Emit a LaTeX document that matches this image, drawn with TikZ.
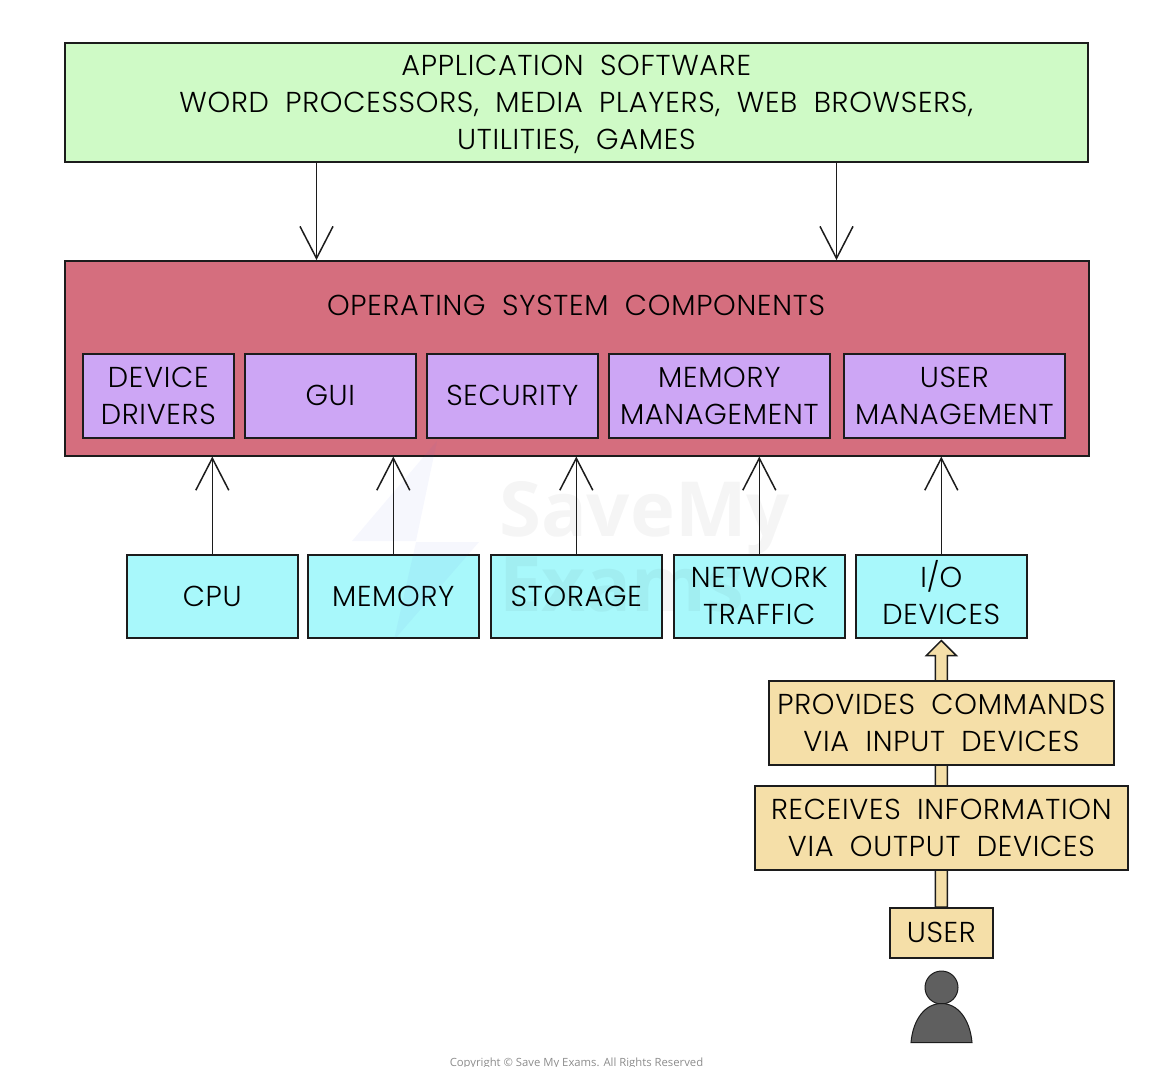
\documentclass[tikz,border=0pt]{standalone}
\usepackage{fontspec}
\setmainfont{Poppins}[UprightFont=* Light,BoldFont=* SemiBold,LetterSpace=2.5,WordSpace=1.9]
\newfontfamily\copyfont{Open Sans}
\usetikzlibrary{arrows.meta}
\usetikzlibrary{calc}
\usetikzlibrary{backgrounds}
\definecolor{c_green}{HTML}{CFFAC6}
\definecolor{c_red}{HTML}{D56E7E}
\definecolor{c_purple}{HTML}{CDA6F5}
\definecolor{c_cyan}{HTML}{A8F8FB}
\definecolor{c_tan}{HTML}{F5DFA8}
\definecolor{c_line}{HTML}{1C1C1C}
\definecolor{c_person}{HTML}{5F5F5F}
\definecolor{c_mark}{HTML}{5560E0}
\tikzset{
	box/.style = {
		align=center,
		inner sep=0pt,
		text centered,
		font=\fontsize{28.8}{37}\selectfont,
		draw=c_line,
		line width=1.6pt,
		anchor=north west
	},
	node_app/.style = {
		box,
		fill=c_green,
		minimum width=1023pt,
		minimum height=119pt
	},
	node_os/.style = {
		box,
		fill=c_red,
		minimum width=1024pt,
		minimum height=195pt
	},
	node_part/.style = {
		box,
		fill=c_purple,
		minimum height=84pt
	},
	node_res/.style = {
		box,
		fill=c_cyan,
		minimum width=171pt,
		minimum height=83pt
	},
	node_user/.style = {
		box,
		fill=c_tan,
		minimum height=84pt
	},
	node_mark/.style = {
		inner sep=0pt,
		text=black,
		text opacity=0.04,
		anchor=base west,
		font=\copyfont\bfseries\fontsize{76}{76}\selectfont
	},
	link/.style = {
		c_line,
		line width=1.5pt,
		-{Straight Barb[length=32pt,width=33pt,line width=1.5pt]}
	},
	block/.style = {
		draw=c_line,
		fill=c_tan,
		line width=1.5pt,
		line join=miter
	},
	person/.style = {
		draw=c_line,
		fill=c_person,
		line width=1pt
	},
}

\begin{document}
\begin{tikzpicture}[x=1pt,y=-1pt]
\useasboundingbox (1,1) rectangle (1155,1067);
% top layer
\node [node_app] (app) at (65,43) {APPLICATION SOFTWARE\\WORD PROCESSORS, MEDIA PLAYERS, WEB BROWSERS,\\UTILITIES\smash{,} GAMES};
\node [node_os] (os) at (65,261) {};
\node [font=\fontsize{28.8}{37}\selectfont] (ostitle) at (577,306.5) {OPERATING SYSTEM COMPONENTS};
% components
\node [node_part, minimum width=151pt] (drivers) at (83,354) {DEVICE\\DRIVERS};
\node [node_part, minimum width=171pt] (gui) at (245,354) {GUI};
\node [node_part, minimum width=171pt] (security) at (427,354) {SECURITY};
\node [node_part, minimum width=221pt] (memman) at (609,354) {MEMORY\\MANAGEMENT};
\node [node_part, minimum width=221pt] (userman) at (844,354) {USER\\MANAGEMENT};
% resources
\node [node_res] (cpu) at (127,555) {CPU};
\node [node_res] (memory) at (308,555) {MEMORY};
\node [node_res] (storage) at (491,555) {STORAGE};
\node [node_res] (network) at (674,555) {NETWORK\\TRAFFIC};
\node [node_res] (io) at (856,555) {I\smash{/}O\\DEVICES};
% user side
\node [node_user, minimum width=345pt] (provides) at (769,681) {PROVIDES COMMANDS\\VIA INPUT DEVICES};
\node [node_user, minimum width=373pt] (receives) at (755,786) {RECEIVES INFORMATION\\VIA OUTPUT DEVICES};
\node [node_user, minimum width=103pt, minimum height=50pt] (user) at (890,908) {USER};
% watermark
\fill [c_mark, opacity=0.05] (438,442) -- (353,542) -- (417,542) -- cycle;
\fill [c_mark, opacity=0.05] (417,543) -- (480,543) -- (395,641) -- cycle;
\node [node_mark] (markone) at (500,537) {SaveMy};
\node [node_mark] (marktwo) at (500,612) {Exams};
\coordinate (appl) at (317.5,162);
\coordinate (appr) at (837.5,162);
\draw [link] (appl) -- (appl |- os.north);
\draw [link] (appr) -- (appr |- os.north);
\foreach \res in {cpu,memory,storage,network,io}
	\draw [link] (\res.north) -- (\res.north |- os.south);
\begin{scope}[on background layer]
\draw [block] ($(user.north)+(-6,0)$) -- ($(io.south)+(-6,17)$) -- ($(io.south)+(-15,17)$) -- ($(io.south)+(0,2)$) -- ($(io.south)+(15,17)$) -- ($(io.south)+(6,17)$) -- ($(user.north)+(6,0)$) -- cycle;
\end{scope}
% person
\node [person, circle, minimum size=33pt, inner sep=0pt] (head) at (942.5,988.5) {};
\draw [person] (912,1043.5) .. controls (914,1020.5) and (926,1004.5) .. (942.5,1004.5) .. controls (959,1004.5) and (971,1020.5) .. (973,1043.5) -- cycle;
\node [text=black!45, font=\copyfont\fontsize{11.3}{13}\selectfont, anchor=base] (copyright) at (577.5,1067.5) {Copyright © Save My Exams. All Rights Reserved};
\end{tikzpicture}
\end{document}
